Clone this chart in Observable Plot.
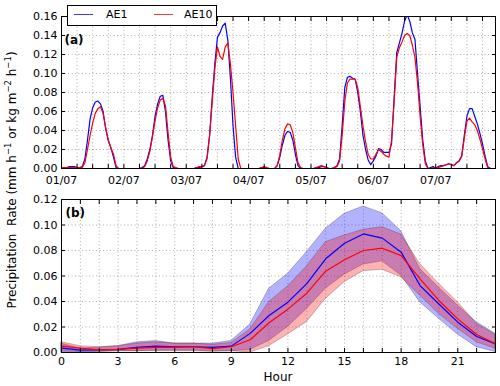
<!DOCTYPE html>
<html><head><meta charset="utf-8">
<script src="https://cdn.jsdelivr.net/npm/d3@7"></script>
<script src="https://cdn.jsdelivr.net/npm/@observablehq/plot@0.6"></script>
<style>
html,body{margin:0;padding:0;background:#fff;}
#wrap{position:relative;width:500px;height:386px;font-family:"DejaVu Sans",sans-serif;overflow:hidden;}
#top,#bot{position:absolute;left:0;}
#top{top:0;} #bot{top:186px;}
#ylab{position:absolute;left:12px;top:180px;transform:translate(-50%,-50%) rotate(-90deg);white-space:nowrap;font-size:12px;line-height:14px;}
#ylab sup{font-size:8.5px;line-height:0;vertical-align:5px;}
#xlab{position:absolute;left:278px;top:377px;transform:translate(-50%,-50%);font-size:12px;}
#legend{position:absolute;left:67px;top:5px;width:150px;height:21px;border:1px solid #000;background:#fff;box-sizing:border-box;font-size:11px;}
.sw{position:absolute;top:8px;width:19px;height:0;border-top:1.3px solid;}
.lt{position:absolute;top:2px;line-height:14px;}
</style></head>
<body>
<div id="wrap">
  <div id="top"></div>
  <div id="bot"></div>
  <div id="ylab">Precipitation&nbsp; Rate (mm h<sup>−1</sup> or kg m<sup>−2</sup> h<sup>−1</sup>)</div>
  <div id="xlab">Hour</div>
  <div id="legend">
    <div class="sw" style="left:6px;border-color:#3a3aff"></div><div class="lt" style="left:38px">AE1</div>
    <div class="sw" style="left:86px;border-color:#ff3a3a"></div><div class="lt" style="left:116px">AE10</div>
  </div>
</div>
<script>
// ---- Panel (a): hourly series, 01/07 00h .. 07/07 23h
const dayLabels = ["01/07","02/07","03/07","04/07","05/07","06/07","07/07"];
const ae1Hourly = [
  0.001,0.001,0.001,0.002,0.002,0.002,0.001,0.001,0.002,0.01,0.03,0.052,0.064,0.07,0.071,0.068,0.06,0.042,0.03,0.022,0.012,0.001,0,0,
  0,0,0,0,0,0,0,0.001,0.003,0.01,0.02,0.035,0.055,0.068,0.076,0.077,0.06,0.03,0.008,0.001,0,0,0,0,
  0,0,0,0,0.001,0.001,0.002,0.003,0.012,0.035,0.075,0.11,0.138,0.143,0.15,0.153,0.135,0.095,0.045,0.012,0,0,0,0,
  0,0,0,0,0,0.001,0.001,0,0,0,0,0.003,0.012,0.025,0.035,0.039,0.038,0.03,0.015,0.003,0,0,0,0,
  0,0,0.001,0.001,0.002,0.002,0.001,0,0,0.001,0.003,0.01,0.045,0.085,0.096,0.097,0.095,0.094,0.08,0.06,0.035,0.02,0.009,0.004,
  0.008,0.013,0.021,0.02,0.017,0.017,0.017,0.026,0.075,0.122,0.132,0.142,0.155,0.162,0.155,0.143,0.136,0.1,0.065,0.03,0.008,0,0.001,0.002,
  0,0.002,0.003,0.003,0.004,0.005,0.004,0.003,0.006,0.008,0.013,0.035,0.055,0.063,0.063,0.055,0.047,0.037,0.026,0.013,0.002,0,0,0
];
const ae10Hourly = [
  0.001,0.001,0.001,0.001,0.001,0.001,0.001,0.001,0.001,0.006,0.02,0.035,0.048,0.058,0.063,0.065,0.058,0.043,0.029,0.022,0.015,0.003,0,0,
  0,0,0,0,0,0,0,0,0.002,0.008,0.018,0.033,0.05,0.064,0.072,0.074,0.066,0.038,0.012,0.002,0.001,0,0,0,
  0,0,0,0,0.001,0.002,0.002,0.003,0.01,0.035,0.07,0.105,0.128,0.118,0.115,0.128,0.132,0.11,0.08,0.045,0.01,0,0,0,
  0,0,0,0,0,0.001,0.002,0.001,0,0,0,0.003,0.014,0.03,0.042,0.047,0.046,0.038,0.022,0.006,0.001,0,0,0,
  0,0,0.001,0.002,0.003,0.002,0.001,0,0,0.001,0.002,0.008,0.035,0.07,0.09,0.094,0.094,0.094,0.085,0.065,0.045,0.028,0.015,0.01,
  0.01,0.015,0.02,0.018,0.015,0.013,0.012,0.03,0.07,0.117,0.127,0.133,0.14,0.142,0.14,0.13,0.117,0.09,0.055,0.025,0.005,0,0,0.001,
  0,0.001,0.002,0.003,0.004,0.005,0.004,0.003,0.006,0.008,0.013,0.032,0.05,0.053,0.049,0.046,0.04,0.031,0.021,0.01,0.001,0,0,0
];
// ---- Panel (b): diurnal cycle, hours 0..23
const hourOfDay = [0,1,2,3,4,5,6,7,8,9,10,11,12,13,14,15,16,17,18,19,20,21,22,23];
const ae1Mean = [0.0035,0.0018,0.002,0.0025,0.004,0.005,0.0045,0.0045,0.004,0.005,0.015,0.029,0.0395,0.054,0.0735,0.0857,0.093,0.0897,0.0787,0.0525,0.038,0.0238,0.0125,0.0068];
const ae1Low  = [0,0,0.0005,0.001,0.001,0.0015,0.0015,0.0015,0.001,0.001,0.002,0.009,0.02,0.034,0.05,0.061,0.069,0.0715,0.0604,0.0395,0.0264,0.0141,0.0042,0.0003];
const ae1High = [0.007,0.003,0.004,0.005,0.008,0.009,0.007,0.007,0.007,0.009,0.022,0.05,0.0617,0.0787,0.097,0.1088,0.1145,0.1093,0.0952,0.0656,0.051,0.0369,0.0238,0.0146];
const ae10Mean = [0.005,0.0035,0.002,0.0025,0.0035,0.004,0.004,0.0045,0.003,0.0045,0.01,0.0233,0.034,0.0465,0.0638,0.0727,0.08,0.0818,0.076,0.0578,0.0408,0.0264,0.0141,0.0068];
const ae10Low  = [0.001,0.0005,0.0005,0.001,0.001,0.001,0.001,0.001,0.0005,0.001,0,0.005,0.0141,0.0238,0.042,0.0551,0.0638,0.0649,0.059,0.0447,0.0303,0.0186,0.0081,0.0029];
const ae10High = [0.008,0.005,0.004,0.005,0.007,0.008,0.007,0.007,0.006,0.0075,0.018,0.0395,0.0518,0.0675,0.0865,0.0918,0.0962,0.0983,0.0925,0.0695,0.054,0.0395,0.0225,0.014];
const yTicksA = [0,0.02,0.04,0.06,0.08,0.10,0.12,0.14,0.16];
const yTicksB = [0,0.02,0.04,0.06,0.08,0.10,0.12];
const xTicksB = [0,3,6,9,12,15,18,21];

const gridStyle = {stroke:"#000", strokeOpacity:0.45, strokeWidth:0.7, strokeDasharray:"1,2.5"};
const fmt = d3.format(".2f");
const hoursA = d3.range(ae1Hourly.length);
const dayTicks = dayLabels.map((_, i) => i * 24);
const sixHour = d3.range(0, 168, 6);

const plotA = Plot.plot({
  width: 500, height: 186,
  marginLeft: 61, marginRight: 5, marginTop: 16, marginBottom: 18,
  style: {fontFamily: "DejaVu Sans", fontSize: "11px", background: "transparent", color: "#000"},
  x: {domain: [0, 167]},
  y: {domain: [0, 0.16]},
  marks: [
    Plot.gridX(sixHour, gridStyle),
    Plot.gridY(yTicksA, gridStyle),
    Plot.lineY(ae1Hourly, {x: hoursA, y: d => d, stroke: "blue", strokeWidth: 1.2, clip: true}),
    Plot.lineY(ae10Hourly, {x: hoursA, y: d => d, stroke: "red", strokeWidth: 1.2, clip: true}),
    Plot.axisX(dayTicks, {anchor: "bottom", tickSize: 0, tickPadding: 8, tickFormat: d => dayLabels[d / 24], label: null}),
    Plot.axisX(sixHour, {anchor: "bottom", tickSize: -4, tickFormat: () => "", label: null}),
    Plot.axisX(sixHour, {anchor: "top", tickSize: -4, tickFormat: () => "", label: null}),
    Plot.axisY(yTicksA, {anchor: "left", tickSize: 0, tickPadding: 4, tickFormat: fmt, label: null}),
    Plot.axisY(yTicksA, {anchor: "left", tickSize: -4, tickFormat: () => "", label: null}),
    Plot.axisY(yTicksA, {anchor: "right", tickSize: -4, tickFormat: () => "", label: null}),
    Plot.frame({stroke: "#000", strokeWidth: 1}),
    Plot.text(["(a)"], {frameAnchor: "top-left", textAnchor: "start", lineAnchor: "middle", dx: 3, dy: 24, fontWeight: "bold", fontSize: 12})
  ]
});
document.getElementById("top").appendChild(plotA);

const rows = hourOfDay.map((h, i) => ({h, bm: ae1Mean[i], blo: ae1Low[i], bhi: ae1High[i], rm: ae10Mean[i], rlo: ae10Low[i], rhi: ae10High[i]}));
const plotB = Plot.plot({
  width: 500, height: 200,
  marginLeft: 61, marginRight: 5, marginTop: 13, marginBottom: 34,
  style: {fontFamily: "DejaVu Sans", fontSize: "11px", background: "transparent", color: "#000"},
  x: {domain: [0, 23]},
  y: {domain: [0, 0.12]},
  marks: [
    Plot.gridX(hourOfDay, gridStyle),
    Plot.gridY(yTicksB, gridStyle),
    Plot.areaY(rows, {x: "h", y1: "blo", y2: "bhi", fill: "blue", fillOpacity: 0.3, stroke: "#223", strokeOpacity: 0.35, strokeWidth: 0.8}),
    Plot.areaY(rows, {x: "h", y1: "rlo", y2: "rhi", fill: "red", fillOpacity: 0.3, stroke: "#322", strokeOpacity: 0.35, strokeWidth: 0.8}),
    Plot.lineY(rows, {x: "h", y: "bm", stroke: "blue", strokeWidth: 1.2}),
    Plot.lineY(rows, {x: "h", y: "rm", stroke: "red", strokeWidth: 1.2}),
    Plot.axisX(xTicksB, {anchor: "bottom", tickSize: 0, tickPadding: 5, tickFormat: d => String(d), label: null}),
    Plot.axisX(hourOfDay, {anchor: "bottom", tickSize: -4, tickFormat: () => "", label: null}),
    Plot.axisX(hourOfDay, {anchor: "top", tickSize: -4, tickFormat: () => "", label: null}),
    Plot.axisY(yTicksB, {anchor: "left", tickSize: 0, tickPadding: 4, tickFormat: fmt, label: null}),
    Plot.axisY(yTicksB, {anchor: "left", tickSize: -4, tickFormat: () => "", label: null}),
    Plot.axisY(yTicksB, {anchor: "right", tickSize: -4, tickFormat: () => "", label: null}),
    Plot.frame({stroke: "#000", strokeWidth: 1}),
    Plot.text(["(b)"], {frameAnchor: "top-left", textAnchor: "start", lineAnchor: "middle", dx: 4, dy: 14, fontWeight: "bold", fontSize: 12})
  ]
});
document.getElementById("bot").appendChild(plotB);
</script>
</body></html>
